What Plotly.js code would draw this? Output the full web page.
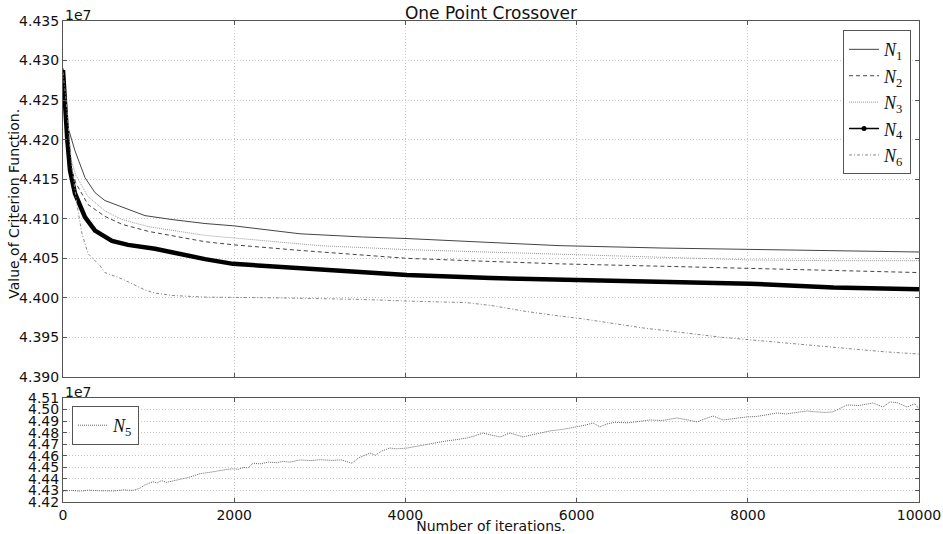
<!DOCTYPE html>
<html>
<head>
<meta charset="utf-8">
<script src="https://cdn.plot.ly/plotly-3.0.1.min.js"></script>
<style>html,body{margin:0;padding:0;background:#fff;}#chart{width:943px;height:534px;}</style>
</head>
<body>
<div id="chart"></div>
<script>
// Values in units of 1e7
const n1X = [0, 20, 60, 140, 257, 374, 490, 690, 958, 1273, 1659, 2000, 2769, 3500, 4019, 5000, 5806, 7000, 8026, 9000, 10000];
const n1Y = [4.4290, 4.4250, 4.4215, 4.4186, 4.4152, 4.4133, 4.4123, 4.4115, 4.4104, 4.4099, 4.4094, 4.4091, 4.4081, 4.4077, 4.4075, 4.4070, 4.4066, 4.4063, 4.4061, 4.4060, 4.4058];

const n2X = [0, 30, 80, 150, 292, 490, 690, 1000, 1659, 2000, 2769, 4019, 5000, 5806, 7000, 8026, 9000, 10000];
const n2Y = [4.4290, 4.4220, 4.4170, 4.4145, 4.4118, 4.4103, 4.4093, 4.4084, 4.4071, 4.4067, 4.4060, 4.4050, 4.4046, 4.4043, 4.4040, 4.4037, 4.4034, 4.4032];

const n3X = [0, 30, 80, 150, 292, 490, 690, 1000, 1659, 2500, 3000, 4019, 5000, 5806, 7000, 8026, 9000, 10000];
const n3Y = [4.4290, 4.4230, 4.4180, 4.4155, 4.4128, 4.4110, 4.4099, 4.4090, 4.4079, 4.4071, 4.4066, 4.4061, 4.4058, 4.4055, 4.4051, 4.4048, 4.4047, 4.4047];

const n4X = [0, 20, 50, 82, 140, 257, 374, 572, 760, 1075, 1460, 1659, 1986, 2769, 3500, 4019, 5000, 5806, 7000, 8026, 9000, 10000];
const n4Y = [4.4288, 4.4250, 4.4200, 4.4161, 4.4132, 4.4102, 4.4085, 4.4072, 4.4067, 4.4062, 4.4053, 4.4049, 4.4043, 4.4038, 4.4033, 4.4029, 4.4025, 4.4023, 4.4021, 4.4018, 4.4013, 4.4011];

const n6X = [0, 40, 82, 105, 160, 222, 292, 430, 490, 690, 958, 1075, 1285, 1659, 2500, 3500, 4019, 4720, 5023, 5400, 5806, 6040, 6776, 7710, 8026, 8808, 9579, 10000];
const n6Y = [4.4285, 4.4245, 4.4190, 4.4165, 4.4120, 4.4081, 4.4056, 4.4041, 4.4032, 4.4024, 4.4010, 4.4006, 4.4003, 4.4001, 4.4000, 4.3998, 4.3996, 4.3994, 4.3990, 4.3983, 4.3977, 4.3974, 4.3962, 4.3950, 4.3947, 4.3939, 4.3932, 4.3929];

const n5X = [0, 100, 200, 300, 400, 500, 600, 700, 820, 900, 950, 1000, 1050, 1100, 1150, 1210, 1300, 1380, 1450, 1520, 1600, 1700, 1800, 1900, 1990, 2050, 2110, 2160, 2220, 2300, 2400, 2500, 2570, 2650, 2770, 2900, 3000, 3154, 3250, 3376, 3450, 3586, 3650, 3720, 3820, 3900, 4019, 4150, 4322, 4450, 4600, 4720, 4800, 4907, 5000, 5105, 5222, 5300, 5374, 5500, 5689, 5850, 6005, 6100, 6192, 6273, 6350, 6450, 6600, 6750, 6857, 7000, 7173, 7300, 7407, 7500, 7593, 7710, 7850, 7990, 8100, 8200, 8341, 8450, 8550, 8692, 8800, 8900, 8995, 9080, 9159, 9300, 9463, 9579, 9661, 9743, 9800, 9860, 9953, 10000];
const n5Y = [4.4295, 4.4300, 4.4295, 4.4302, 4.4298, 4.4300, 4.4296, 4.4305, 4.4300, 4.4320, 4.4345, 4.4360, 4.4375, 4.4365, 4.4385, 4.4370, 4.4385, 4.4395, 4.4410, 4.4425, 4.4445, 4.4455, 4.4470, 4.4480, 4.4488, 4.4483, 4.4500, 4.4495, 4.4536, 4.4530, 4.4545, 4.4540, 4.4552, 4.4545, 4.4564, 4.4558, 4.4566, 4.4560, 4.4565, 4.4536, 4.4580, 4.4624, 4.4605, 4.4640, 4.4667, 4.4660, 4.4667, 4.4685, 4.4711, 4.4725, 4.4740, 4.4754, 4.4770, 4.4797, 4.4780, 4.4763, 4.4797, 4.4780, 4.4763, 4.4785, 4.4815, 4.4830, 4.4850, 4.4865, 4.4884, 4.4850, 4.4875, 4.4890, 4.4885, 4.4900, 4.4910, 4.4905, 4.4927, 4.4910, 4.4893, 4.4920, 4.4944, 4.4910, 4.4925, 4.4936, 4.4940, 4.4955, 4.4970, 4.4962, 4.4975, 4.4988, 4.4980, 4.4975, 4.4980, 4.5010, 4.5040, 4.5035, 4.5057, 4.5022, 4.5066, 4.5060, 4.5040, 4.5022, 4.5050, 4.5005];

const topTicks = [4.390, 4.395, 4.400, 4.405, 4.410, 4.415, 4.420, 4.425, 4.430, 4.435];
const bottomTicks = [4.42, 4.43, 4.44, 4.45, 4.46, 4.47, 4.48, 4.49, 4.50, 4.51];
const xTicks = [0, 2000, 4000, 6000, 8000, 10000];

const lab = (k) => '<i>N</i><sub>' + k + '</sub>';

const traces = [
  {x: n1X, y: n1Y, xaxis: 'x', yaxis: 'y', mode: 'lines', name: lab(1), line: {color: '#444', width: 1}},
  {x: n2X, y: n2Y, xaxis: 'x', yaxis: 'y', mode: 'lines', name: lab(2), line: {color: '#444', width: 1, dash: '4px,3px'}},
  {x: n3X, y: n3Y, xaxis: 'x', yaxis: 'y', mode: 'lines', name: lab(3), line: {color: '#999', width: 1, dash: '1px,1px'}},
  {x: n4X, y: n4Y, xaxis: 'x', yaxis: 'y', mode: 'lines', name: lab(4), showlegend: false, line: {color: '#000', width: 4.5}},
  {x: [null], y: [null], xaxis: 'x', yaxis: 'y', mode: 'lines+markers', name: lab(4), line: {color: '#000', width: 1.5}, marker: {color: '#000', size: 5}},
  {x: n6X, y: n6Y, xaxis: 'x', yaxis: 'y', mode: 'lines', name: lab(6), line: {color: '#888', width: 1, dash: '3px,2px,1px,2px'}},
  {x: n5X, y: n5Y, xaxis: 'x2', yaxis: 'y2', mode: 'lines', name: lab(5), legend: 'legend2', line: {color: '#666', width: 1, dash: '1px,1px'}}
];

const tickFont = {family: 'DejaVu Sans', size: 14, color: '#111'};
const axisCommon = {
  showline: true, linecolor: '#555', linewidth: 1, mirror: 'allticks',
  ticks: 'inside', ticklen: 4, tickcolor: '#555',
  showgrid: true, gridcolor: '#c8c8c8', griddash: '1px,2px', gridwidth: 1,
  zeroline: false, tickfont: tickFont
};

const legendFont = {family: 'Liberation Serif', size: 18, color: '#111'};

const layout = {
  width: 943, height: 534,
  margin: {l: 63, r: 24, t: 21, b: 32},
  paper_bgcolor: '#fff', plot_bgcolor: '#fff',
  title: {text: 'One Point Crossover', font: {family: 'DejaVu Sans', size: 17, color: '#111'}, x: 0.5, xref: 'paper', y: 0.975, yref: 'container', yanchor: 'middle'},
  xaxis: Object.assign({}, axisCommon, {domain: [0, 1], anchor: 'y', range: [0, 10000], tickvals: xTicks, showticklabels: false, matches: 'x2'}),
  yaxis: Object.assign({}, axisCommon, {domain: [0.2599, 1], anchor: 'x', range: [4.390, 4.435], tickvals: topTicks, tickformat: '.3f'}),
  xaxis2: Object.assign({}, axisCommon, {domain: [0, 1], anchor: 'y2', range: [0, 10000], tickvals: xTicks, tickformat: 'd',
    title: {text: 'Number of iterations.', font: {family: 'DejaVu Sans', size: 14, color: '#111'}, standoff: 0}}),
  yaxis2: Object.assign({}, axisCommon, {domain: [0, 0.2162], anchor: 'x2', range: [4.42, 4.51], tickvals: bottomTicks, tickformat: '.2f'}),
  legend: {x: 0.9907, xanchor: 'right', y: 0.981, yanchor: 'top', bordercolor: '#555', borderwidth: 1, bgcolor: '#fff', font: legendFont, tracegroupgap: 0},
  legend2: {x: 0.0105, xanchor: 'left', y: 0.1996, yanchor: 'top', bordercolor: '#555', borderwidth: 1, bgcolor: '#fff', font: legendFont},
  annotations: [
    {text: '1e7', xref: 'paper', yref: 'paper', x: 0, y: 1, xanchor: 'left', yanchor: 'bottom', showarrow: false, font: tickFont, yshift: -4},
    {text: '1e7', xref: 'paper', yref: 'paper', x: 0, y: 0.2162, xanchor: 'left', yanchor: 'bottom', showarrow: false, font: tickFont, yshift: -4},
    {text: 'Value of Criterion Function.', xref: 'paper', yref: 'paper', x: -0.0572, y: 0.62, xanchor: 'center', yanchor: 'middle', textangle: -90, showarrow: false, font: {family: 'DejaVu Sans', size: 14, color: '#111'}}
  ],
  showlegend: true
};

Plotly.newPlot('chart', traces, layout, {displayModeBar: false, staticPlot: true});
</script>
</body>
</html>
